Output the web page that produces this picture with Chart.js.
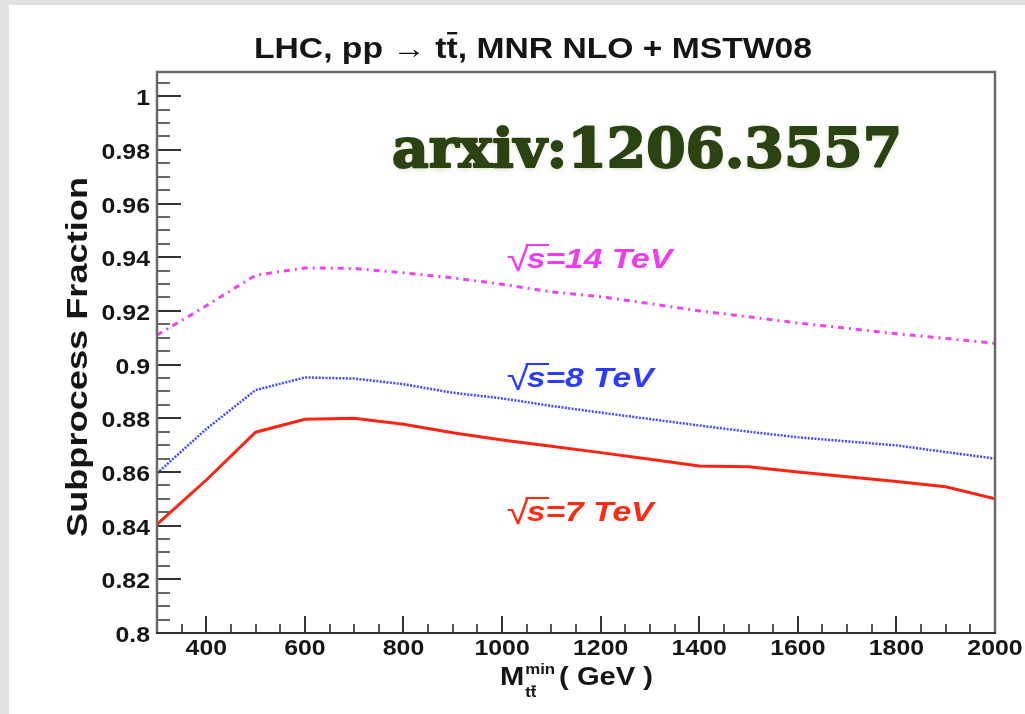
<!DOCTYPE html>
<html>
<head>
<meta charset="utf-8">
<script src="https://cdn.jsdelivr.net/npm/chart.js@4.4.1/dist/chart.umd.min.js"></script>
<style>
  html, body { margin: 0; padding: 0; background: #fff; overflow: hidden; }
  canvas { display: block; }
</style>
</head>
<body>
<canvas id="c" width="1025" height="714"></canvas>
<script>
// Lower cut on the t-tbar invariant mass (GeV)
const massMin = [300, 400, 500, 600, 700, 800, 900, 1000, 1100, 1200, 1300, 1400, 1500, 1600, 1700, 1800, 1900, 2000];

// Subprocess fraction at each collision energy
const frac7TeV  = [0.8405, 0.8570, 0.8748, 0.8796, 0.8800, 0.8778, 0.8746, 0.8719, 0.8696, 0.8672, 0.8647, 0.8622, 0.8619, 0.8600, 0.8582, 0.8564, 0.8545, 0.8500];
const frac8TeV  = [0.8595, 0.8760, 0.8905, 0.8952, 0.8948, 0.8927, 0.8895, 0.8874, 0.8846, 0.8821, 0.8797, 0.8773, 0.8750, 0.8729, 0.8714, 0.8699, 0.8674, 0.8650];
const frac14TeV = [0.9110, 0.9219, 0.9333, 0.9360, 0.9358, 0.9342, 0.9323, 0.9299, 0.9271, 0.9253, 0.9227, 0.9200, 0.9178, 0.9155, 0.9135, 0.9115, 0.9097, 0.9079];

const seriesLabels = ['\u221As=7 TeV', '\u221As=8 TeV', '\u221As=14 TeV'];

// Axis ticks
const xTickValues = [400, 600, 800, 1000, 1200, 1400, 1600, 1800, 2000];
const yTickValues = [0.8, 0.82, 0.84, 0.86, 0.88, 0.9, 0.92, 0.94, 0.96, 0.98, 1];
const xMinorStep = 50;
const yMinorStep = 0.005;

const titleText = 'LHC, pp \u2192 tt, MNR NLO + MSTW08';
const yTitleText = 'Subprocess Fraction';
const stampText = 'arxiv:1206.3557';

const SANS = '"Liberation Sans", Arial, sans-serif';
const TEXT_STRETCH = 1.13;
const INK = '#151515';

const toPoints = arr => massMin.map((m, i) => ({ x: m, y: arr[i] }));

// Grey page margin behind a white sheet
const pagePlugin = {
  id: 'page',
  beforeDraw(chart) {
    const { ctx, width, height } = chart;
    ctx.save();
    ctx.fillStyle = '#e2e2e2';
    ctx.fillRect(0, 0, width, height);
    ctx.fillStyle = '#ffffff';
    ctx.fillRect(9, 5, width - 9, height - 5);
    ctx.restore();
  }
};

// ROOT-style frame with inward major/minor ticks
const framePlugin = {
  id: 'frame',
  afterDatasetsDraw(chart) {
    const { ctx, chartArea: a, scales: { x, y } } = chart;
    ctx.save();
    ctx.lineCap = 'butt';

    for (let k = 0; ; k++) {
      const v = x.min + k * xMinorStep;
      if (v > x.max + 1e-9) break;
      const major = xTickValues.some(t => Math.abs(t - v) < 1e-6);
      const px = Math.round(x.getPixelForValue(v));
      ctx.strokeStyle = major ? '#333' : '#555';
      ctx.lineWidth = 2;
      ctx.beginPath();
      ctx.moveTo(px, a.bottom);
      ctx.lineTo(px, a.bottom - (major ? 17 : 9));
      ctx.stroke();
    }
    for (let k = 0; ; k++) {
      const v = y.min + k * yMinorStep;
      if (v > y.max + 1e-9) break;
      const major = yTickValues.some(t => Math.abs(t - v) < 1e-6);
      const py = Math.round(y.getPixelForValue(v));
      ctx.strokeStyle = major ? '#333' : '#666';
      ctx.lineWidth = 2;
      ctx.beginPath();
      ctx.moveTo(a.left, py);
      ctx.lineTo(a.left + (major ? 24 : 13), py);
      ctx.stroke();
    }

    ctx.lineWidth = 2.5;
    ctx.strokeStyle = '#6a6a6a';
    ctx.beginPath();
    ctx.moveTo(a.left, a.bottom);
    ctx.lineTo(a.left, a.top);
    ctx.lineTo(a.right, a.top);
    ctx.lineTo(a.right, a.bottom);
    ctx.stroke();
    ctx.strokeStyle = '#333';
    ctx.lineWidth = 2;
    ctx.beginPath();
    ctx.moveTo(a.left - 1, a.bottom);
    ctx.lineTo(a.right + 1, a.bottom);
    ctx.stroke();
    ctx.restore();
  }
};

function stretchedText(ctx, str, x, y, font, color, align, sx) {
  ctx.save();
  ctx.font = font;
  ctx.fillStyle = color;
  ctx.textBaseline = 'alphabetic';
  const w = ctx.measureText(str).width * sx;
  let left = x;
  if (align === 'center') left = x - w / 2;
  else if (align === 'right') left = x - w;
  ctx.translate(left, y);
  ctx.scale(sx, 1);
  ctx.textAlign = 'left';
  ctx.fillText(str, 0, 0);
  ctx.restore();
  return w;
}

// sqrt(s) label: radical glyph, italic text, and a bar over the "s"
function energyLabel(ctx, label, x, baseline, color, size) {
  const rest = label.slice(1);
  ctx.save();
  ctx.translate(x, baseline);
  ctx.scale(1.2, 1);
  ctx.fillStyle = color;
  ctx.textBaseline = 'alphabetic';
  ctx.textAlign = 'left';
  ctx.font = `${Math.round(size * 1.2)}px ${SANS}`;
  const rad = ctx.measureText(label[0]);
  ctx.fillText(label[0], -1, 3);
  const top = 3 - rad.actualBoundingBoxAscent;
  ctx.font = `italic bold ${size}px ${SANS}`;
  const ws = ctx.measureText(rest[0]).width;
  const sx0 = rad.width - 3;
  ctx.fillText(rest, sx0, 0);
  ctx.fillRect(sx0 - 1, top, ws + 4, 2);
  ctx.restore();
}

const textPlugin = {
  id: 'texts',
  afterDraw(chart) {
    const { ctx, chartArea: a, scales: { x, y } } = chart;
    const tickFont = `bold 22px ${SANS}`;

    xTickValues.forEach(v => {
      stretchedText(ctx, String(v), x.getPixelForValue(v), a.bottom + 22, tickFont, INK, 'center', TEXT_STRETCH);
    });
    yTickValues.forEach(v => {
      const lbl = String(Number(v.toFixed(3)));
      stretchedText(ctx, lbl, a.left - 7, y.getPixelForValue(v) + 9, tickFont, INK, 'right', TEXT_STRETCH);
    });

    // title with bar over the second t
    ctx.save();
    ctx.font = `bold 29px ${SANS}`;
    const split = titleText.indexOf('tt,') + 1;
    const wA = ctx.measureText(titleText.slice(0, split)).width;
    const wB = ctx.measureText(titleText.slice(split, split + 1)).width;
    const wAll = ctx.measureText(titleText).width;
    const titleWidth = 558;
    ctx.translate(533 - titleWidth / 2, 58);
    ctx.scale(titleWidth / wAll, 1);
    ctx.fillStyle = INK;
    ctx.textAlign = 'left';
    ctx.textBaseline = 'alphabetic';
    ctx.fillText(titleText, 0, 0);
    ctx.fillRect(wA + 0.5, -26, wB - 1, 2.4);
    ctx.restore();

    // y axis title
    ctx.save();
    ctx.font = `bold 30px ${SANS}`;
    const ysx = 360 / ctx.measureText(yTitleText).width;
    ctx.translate(87, 357);
    ctx.rotate(-Math.PI / 2);
    ctx.scale(ysx, 1);
    ctx.fillStyle = INK;
    ctx.textAlign = 'center';
    ctx.textBaseline = 'alphabetic';
    ctx.fillText(yTitleText, 0, 0);
    ctx.restore();

    // x axis title: M_{tt}^{min} ( GeV )
    ctx.save();
    const xs = 1.12;
    const big = `bold 26px ${SANS}`;
    const small = `bold 15px ${SANS}`;
    let cx = 500;
    const base = 685;
    cx += stretchedText(ctx, 'M', cx, base, big, INK, 'left', xs);
    const supW = stretchedText(ctx, 'min', cx + 1, base - 11, small, INK, 'left', xs);
    ctx.font = small;
    const tW = ctx.measureText('t').width * xs;
    stretchedText(ctx, 'tt', cx + 1, base + 12, small, INK, 'left', xs);
    ctx.fillStyle = INK;
    ctx.fillRect(cx + 1 + tW + 0.5, base + 0.5, tW - 1, 1.6);
    cx += Math.max(supW, 2 * tW) + 5;
    stretchedText(ctx, '( GeV )', cx, base, big, INK, 'left', xs);
    ctx.restore();

    // series labels
    energyLabel(ctx, seriesLabels[2], 508, 268, '#ee3cee', 28);
    energyLabel(ctx, seriesLabels[1], 508, 387, '#2a3cff', 28);
    energyLabel(ctx, seriesLabels[0], 508, 521, '#ff2a12', 28);

    // paper reference stamp
    ctx.save();
    ctx.font = 'bold 54px "DejaVu Serif", serif';
    const ssx = 510 / ctx.measureText(stampText).width;
    ctx.translate(392, 167);
    ctx.scale(ssx, 1);
    ctx.shadowColor = 'rgba(150, 140, 80, 0.35)';
    ctx.shadowBlur = 5;
    ctx.shadowOffsetY = 2;
    ctx.fillStyle = '#2b4212';
    ctx.strokeStyle = '#2b4212';
    ctx.lineWidth = 2;
    ctx.lineJoin = 'round';
    ctx.textAlign = 'left';
    ctx.textBaseline = 'alphabetic';
    ctx.fillText(stampText, 0, 0);
    ctx.shadowColor = 'transparent';
    ctx.strokeText(stampText, 0, 0);
    ctx.restore();
  }
};

new Chart(document.getElementById('c').getContext('2d'), {
  type: 'line',
  data: {
    datasets: [
      {
        label: seriesLabels[2],
        data: toPoints(frac14TeV),
        borderColor: '#ee44ee',
        borderWidth: 3,
        borderDash: [6, 5, 2, 5],
        pointRadius: 0,
        tension: 0,
        fill: false
      },
      {
        label: seriesLabels[1],
        data: toPoints(frac8TeV),
        borderColor: '#4448ff',
        borderWidth: 2.5,
        borderDash: [2, 1.4],
        pointRadius: 0,
        tension: 0,
        fill: false
      },
      {
        label: seriesLabels[0],
        data: toPoints(frac7TeV),
        borderColor: '#ff2412',
        borderWidth: 3,
        pointRadius: 0,
        tension: 0,
        fill: false
      }
    ]
  },
  options: {
    responsive: false,
    animation: false,
    events: [],
    devicePixelRatio: 1,
    layout: { padding: { left: 157, top: 72, right: 30, bottom: 81 } },
    plugins: {
      legend: { display: false },
      tooltip: { enabled: false },
      title: { display: false }
    },
    scales: {
      x: { type: 'linear', min: 300, max: 2000, display: false },
      y: { type: 'linear', min: 0.8, max: 1.009, display: false }
    }
  },
  plugins: [pagePlugin, framePlugin, textPlugin]
});
</script>
</body>
</html>
